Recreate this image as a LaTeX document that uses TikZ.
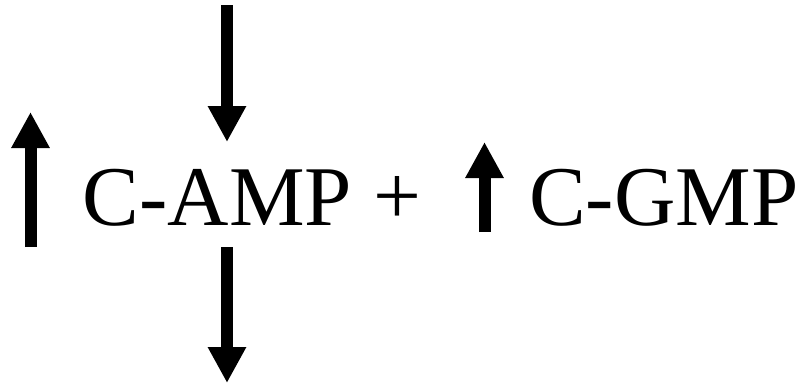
\documentclass[tikz,border=0pt]{standalone}
\usepackage{fontspec}
\setmainfont{Liberation Serif}
\usetikzlibrary{arrows.meta}
\tikzset{
  bigarrow/.style={line width=12pt, -{Triangle[width=36pt,length=36pt]}},
  bigtext/.style={inner sep=0pt, anchor=base west, font=\fontsize{85pt}{90pt}\selectfont}
}
\begin{document}
\begin{tikzpicture}[x=1pt,y=1pt]
\useasboundingbox (0,0) rectangle (801,-386);
\node[bigtext] (camp) at (82.6,-225) {C-AMP};
\node[bigtext, anchor=base] (plus) at (397.5,-224) {+};
\node[bigtext] (cgmp) at (529,-225) {C-GMP};
\coordinate (t1s) at (227,-5);
\coordinate (t1e) at (227,-142);
\coordinate (t2s) at (227,-247);
\coordinate (t2e) at (227,-383);
\coordinate (u1s) at (30.5,-247);
\coordinate (u1e) at (30.5,-112);
\coordinate (u2s) at (484.5,-232);
\coordinate (u2e) at (484.5,-142);
\draw[bigarrow] (t1s) -- (t1e);
\draw[bigarrow] (t2s) -- (t2e);
\draw[bigarrow] (u1s) -- (u1e);
\draw[bigarrow] (u2s) -- (u2e);
\end{tikzpicture}
\end{document}
